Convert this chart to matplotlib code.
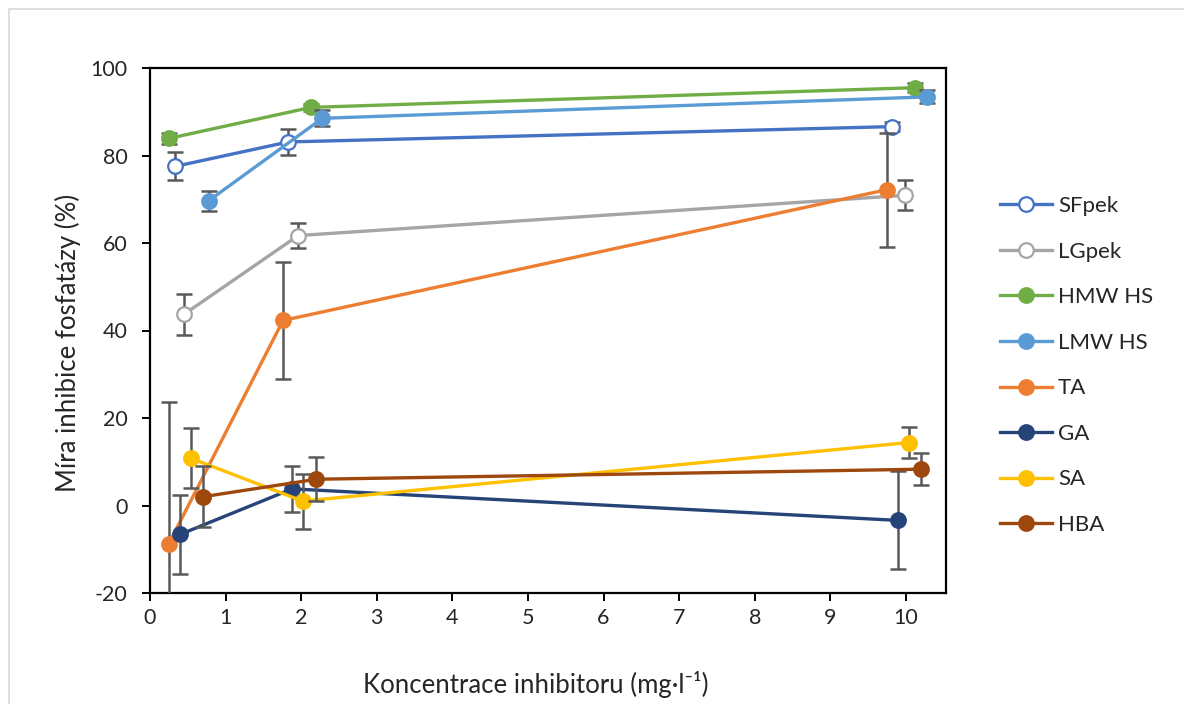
import numpy as np
import matplotlib
matplotlib.use('Agg')
import matplotlib.pyplot as plt
from matplotlib.patches import Rectangle

plt.rcParams['font.family'] = ['Lato', 'DejaVu Sans']
plt.rcParams['axes.unicode_minus'] = False

# inhibitor concentration (mg/l), slightly offset per series
x_sfpek = [0.33, 1.83, 9.81]
x_lgpek = [0.45, 1.96, 9.99]
x_hmw = [0.25, 2.13, 10.12]
x_lmw = [0.78, 2.28, 10.28]
x_ta = [0.25, 1.76, 9.75]
x_ga = [0.40, 1.88, 9.89]
x_sa = [0.54, 2.02, 10.04]
x_hba = [0.70, 2.20, 10.20]

# phosphatase inhibition (%) and errors
y_sfpek = [77.5, 83.1, 86.6]
y_lgpek = [43.7, 61.7, 70.9]
y_hmw = [83.9, 91.0, 95.5]
y_lmw = [69.7, 88.5, 93.4]
y_ta = [-8.7, 42.3, 72.2]
y_ga = [-6.6, 3.8, -3.4]
y_sa = [10.8, 1.0, 14.4]
y_hba = [2.0, 6.0, 8.3]

e_sfpek = [3.2, 3.0, 1.0]
e_lgpek = [4.7, 2.9, 3.4]
e_hmw = [1.2, 0.8, 1.0]
e_lmw = [2.3, 1.8, 1.5]
e_ta = [32.3, 13.3, 13.0]
e_ga = [9.0, 5.3, 11.2]
e_sa = [6.9, 6.3, 3.5]
e_hba = [7.0, 5.0, 3.7]

series = [
    ('SFpek', x_sfpek, y_sfpek, e_sfpek, '#4472C4', True),
    ('LGpek', x_lgpek, y_lgpek, e_lgpek, '#A5A5A5', True),
    ('HMW HS', x_hmw, y_hmw, e_hmw, '#70AD47', False),
    ('LMW HS', x_lmw, y_lmw, e_lmw, '#5B9BD5', False),
    ('TA', x_ta, y_ta, e_ta, '#ED7D31', False),
    ('GA', x_ga, y_ga, e_ga, '#264478', False),
    ('SA', x_sa, y_sa, e_sa, '#FFC000', False),
    ('HBA', x_hba, y_hba, e_hba, '#9E480E', False),
]

fig = plt.figure(figsize=(11.84, 7.04), dpi=100)
ax = fig.add_axes([150/1184, 1-593/704, (946-150)/1184, (593-68)/704])

for i, (name, xs, ys, es, col, hollow) in enumerate(series):
    ax.errorbar(xs, ys, yerr=es, fmt='none', ecolor='#595959', elinewidth=1.8,
                capsize=5.5, capthick=1.8, zorder=2+2*i)
    ax.plot(xs, ys, color=col, lw=2.4, marker='o', markersize=10.5,
            markerfacecolor='white' if hollow else col,
            markeredgecolor=col, markeredgewidth=1.6, label=name,
            zorder=3+2*i)

ax.set_xlim(0, 10.53)
ax.set_ylim(-20, 100)
ax.set_xticks(np.arange(0, 11, 1))
ax.set_yticks(np.arange(-20, 101, 20))
for s in ax.spines.values():
    s.set_linewidth(1.6)
    s.set_color('black')
ax.tick_params(direction='out', length=6, width=1.4, labelsize=15.5,
               labelcolor='#262626')
ax.tick_params(axis='y', pad=10)
ax.tick_params(axis='x', pad=5)

ax.set_xlabel('Koncentrace inhibitoru (mg·l⁻¹)', fontsize=18.5, color='#262626', labelpad=28)
ax.set_ylabel('Míra inhibice fosfatázy (%)', fontsize=18.5, color='#262626', labelpad=8)
ax.xaxis.set_label_coords(0.484, -0.148)
ax.yaxis.set_label_coords(-0.087, 0.477)

fig.legend(loc='upper left', bbox_to_anchor=(989/1184, 1-185/704), frameon=False,
           fontsize=16, handlelength=2.35, labelspacing=1.15, handletextpad=0.25,
           borderpad=0, labelcolor='#262626')

fig.patches.append(Rectangle((9/1184, -0.02), 1.0, 1-9/704+0.02, transform=fig.transFigure,
                             fill=False, edgecolor='#D9D9D9', lw=1.2))

fig.savefig('out.png', dpi=100)
